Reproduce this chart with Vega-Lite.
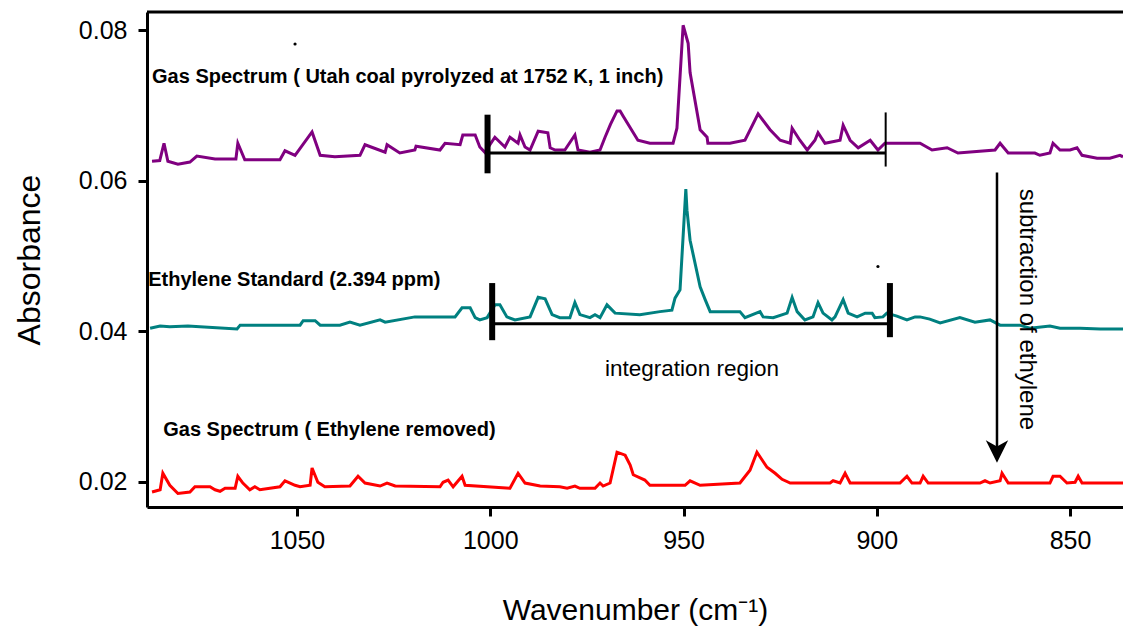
{
  "$schema": "https://vega.github.io/schema/vega-lite/v6.json",
  "width": 976,
  "height": 495,
  "autosize": {"type": "none"},
  "padding": {"left": 147, "top": 12, "right": 0, "bottom": 126},
  "background": "white",
  "config": {
    "view": {"stroke": null},
    "font": "Liberation Sans",
    "axis": {
      "grid": false,
      "domainColor": "black",
      "domainWidth": 3,
      "tickColor": "black",
      "tickWidth": 3,
      "tickSize": 9,
      "labelColor": "black",
      "labelFont": "Liberation Sans",
      "labelFontSize": 25,
      "titleColor": "black",
      "titleFont": "Liberation Sans",
      "titleFontWeight": "normal"
    }
  },
  "datasets": {
    "spectra": [
      {"series": "gas", "wn": 1087.5, "a": 0.0626},
      {"series": "gas", "wn": 1085.5, "a": 0.0627},
      {"series": "gas", "wn": 1084.4, "a": 0.0650},
      {"series": "gas", "wn": 1083.4, "a": 0.0626},
      {"series": "gas", "wn": 1080.8, "a": 0.0622},
      {"series": "gas", "wn": 1077.7, "a": 0.0625},
      {"series": "gas", "wn": 1075.9, "a": 0.0633},
      {"series": "gas", "wn": 1071.2, "a": 0.0629},
      {"series": "gas", "wn": 1065.8, "a": 0.0629},
      {"series": "gas", "wn": 1065.3, "a": 0.0650},
      {"series": "gas", "wn": 1063.5, "a": 0.0628},
      {"series": "gas", "wn": 1054.4, "a": 0.0628},
      {"series": "gas", "wn": 1053.1, "a": 0.0640},
      {"series": "gas", "wn": 1050.5, "a": 0.0634},
      {"series": "gas", "wn": 1046.1, "a": 0.0665},
      {"series": "gas", "wn": 1044.0, "a": 0.0634},
      {"series": "gas", "wn": 1040.2, "a": 0.0632},
      {"series": "gas", "wn": 1033.7, "a": 0.0634},
      {"series": "gas", "wn": 1032.4, "a": 0.0648},
      {"series": "gas", "wn": 1027.2, "a": 0.0638},
      {"series": "gas", "wn": 1026.7, "a": 0.0648},
      {"series": "gas", "wn": 1023.4, "a": 0.0637},
      {"series": "gas", "wn": 1019.5, "a": 0.0641},
      {"series": "gas", "wn": 1019.2, "a": 0.0646},
      {"series": "gas", "wn": 1013.0, "a": 0.0641},
      {"series": "gas", "wn": 1011.7, "a": 0.0650},
      {"series": "gas", "wn": 1007.8, "a": 0.0648},
      {"series": "gas", "wn": 1007.1, "a": 0.0661},
      {"series": "gas", "wn": 1003.9, "a": 0.0661},
      {"series": "gas", "wn": 1002.7, "a": 0.0645},
      {"series": "gas", "wn": 1001.4, "a": 0.0638},
      {"series": "gas", "wn": 998.8, "a": 0.0658},
      {"series": "gas", "wn": 996.2, "a": 0.0645},
      {"series": "gas", "wn": 994.9, "a": 0.0658},
      {"series": "gas", "wn": 992.8, "a": 0.0650},
      {"series": "gas", "wn": 992.3, "a": 0.0661},
      {"series": "gas", "wn": 991.0, "a": 0.0645},
      {"series": "gas", "wn": 989.7, "a": 0.0641},
      {"series": "gas", "wn": 987.6, "a": 0.0666},
      {"series": "gas", "wn": 985.1, "a": 0.0664},
      {"series": "gas", "wn": 984.5, "a": 0.0644},
      {"series": "gas", "wn": 983.2, "a": 0.0641},
      {"series": "gas", "wn": 980.7, "a": 0.0641},
      {"series": "gas", "wn": 978.1, "a": 0.0661},
      {"series": "gas", "wn": 977.3, "a": 0.0641},
      {"series": "gas", "wn": 974.2, "a": 0.0638},
      {"series": "gas", "wn": 971.6, "a": 0.0641},
      {"series": "gas", "wn": 970.3, "a": 0.0658},
      {"series": "gas", "wn": 968.9, "a": 0.0675},
      {"series": "gas", "wn": 967.2, "a": 0.0693},
      {"series": "gas", "wn": 966.4, "a": 0.0693},
      {"series": "gas", "wn": 965.6, "a": 0.0686},
      {"series": "gas", "wn": 961.8, "a": 0.0654},
      {"series": "gas", "wn": 958.7, "a": 0.0650},
      {"series": "gas", "wn": 952.7, "a": 0.0650},
      {"series": "gas", "wn": 951.7, "a": 0.0670},
      {"series": "gas", "wn": 950.1, "a": 0.0807},
      {"series": "gas", "wn": 948.8, "a": 0.0783},
      {"series": "gas", "wn": 948.3, "a": 0.0744},
      {"series": "gas", "wn": 945.7, "a": 0.0668},
      {"series": "gas", "wn": 943.9, "a": 0.0658},
      {"series": "gas", "wn": 943.7, "a": 0.0650},
      {"series": "gas", "wn": 938.0, "a": 0.0650},
      {"series": "gas", "wn": 934.1, "a": 0.0654},
      {"series": "gas", "wn": 930.7, "a": 0.0689},
      {"series": "gas", "wn": 927.6, "a": 0.0668},
      {"series": "gas", "wn": 925.0, "a": 0.0654},
      {"series": "gas", "wn": 922.4, "a": 0.0650},
      {"series": "gas", "wn": 921.9, "a": 0.0670},
      {"series": "gas", "wn": 919.9, "a": 0.0654},
      {"series": "gas", "wn": 918.0, "a": 0.0641},
      {"series": "gas", "wn": 916.0, "a": 0.0654},
      {"series": "gas", "wn": 915.2, "a": 0.0664},
      {"series": "gas", "wn": 913.4, "a": 0.0650},
      {"series": "gas", "wn": 909.5, "a": 0.0654},
      {"series": "gas", "wn": 908.7, "a": 0.0674},
      {"series": "gas", "wn": 906.9, "a": 0.0654},
      {"series": "gas", "wn": 904.8, "a": 0.0644},
      {"series": "gas", "wn": 901.7, "a": 0.0654},
      {"series": "gas", "wn": 899.7, "a": 0.0641},
      {"series": "gas", "wn": 897.9, "a": 0.0650},
      {"series": "gas", "wn": 888.8, "a": 0.0650},
      {"series": "gas", "wn": 885.7, "a": 0.0641},
      {"series": "gas", "wn": 881.8, "a": 0.0644},
      {"series": "gas", "wn": 879.0, "a": 0.0637},
      {"series": "gas", "wn": 869.4, "a": 0.0641},
      {"series": "gas", "wn": 868.1, "a": 0.0650},
      {"series": "gas", "wn": 866.0, "a": 0.0637},
      {"series": "gas", "wn": 859.1, "a": 0.0637},
      {"series": "gas", "wn": 857.8, "a": 0.0634},
      {"series": "gas", "wn": 855.2, "a": 0.0637},
      {"series": "gas", "wn": 854.4, "a": 0.0650},
      {"series": "gas", "wn": 852.6, "a": 0.0641},
      {"series": "gas", "wn": 850.0, "a": 0.0641},
      {"series": "gas", "wn": 848.2, "a": 0.0644},
      {"series": "gas", "wn": 846.9, "a": 0.0634},
      {"series": "gas", "wn": 843.0, "a": 0.0630},
      {"series": "gas", "wn": 839.7, "a": 0.0630},
      {"series": "gas", "wn": 837.1, "a": 0.0634},
      {"series": "gas", "wn": 836.3, "a": 0.0632},

      {"series": "eth", "wn": 1088.0, "a": 0.0404},
      {"series": "eth", "wn": 1085.4, "a": 0.0407},
      {"series": "eth", "wn": 1082.9, "a": 0.0406},
      {"series": "eth", "wn": 1078.2, "a": 0.0407},
      {"series": "eth", "wn": 1075.1, "a": 0.0406},
      {"series": "eth", "wn": 1065.5, "a": 0.0403},
      {"series": "eth", "wn": 1064.7, "a": 0.0408},
      {"series": "eth", "wn": 1049.2, "a": 0.0408},
      {"series": "eth", "wn": 1048.4, "a": 0.0414},
      {"series": "eth", "wn": 1045.3, "a": 0.0414},
      {"series": "eth", "wn": 1044.0, "a": 0.0408},
      {"series": "eth", "wn": 1038.9, "a": 0.0408},
      {"series": "eth", "wn": 1036.3, "a": 0.0412},
      {"series": "eth", "wn": 1033.7, "a": 0.0408},
      {"series": "eth", "wn": 1028.5, "a": 0.0415},
      {"series": "eth", "wn": 1027.2, "a": 0.0412},
      {"series": "eth", "wn": 1019.5, "a": 0.0419},
      {"series": "eth", "wn": 1009.1, "a": 0.0419},
      {"series": "eth", "wn": 1007.3, "a": 0.0431},
      {"series": "eth", "wn": 1005.2, "a": 0.0431},
      {"series": "eth", "wn": 1003.9, "a": 0.0418},
      {"series": "eth", "wn": 1002.7, "a": 0.0415},
      {"series": "eth", "wn": 1000.8, "a": 0.0418},
      {"series": "eth", "wn": 998.8, "a": 0.0435},
      {"series": "eth", "wn": 997.5, "a": 0.0435},
      {"series": "eth", "wn": 995.7, "a": 0.0419},
      {"series": "eth", "wn": 993.6, "a": 0.0415},
      {"series": "eth", "wn": 989.7, "a": 0.0419},
      {"series": "eth", "wn": 987.6, "a": 0.0445},
      {"series": "eth", "wn": 985.8, "a": 0.0443},
      {"series": "eth", "wn": 984.0, "a": 0.0422},
      {"series": "eth", "wn": 982.0, "a": 0.0418},
      {"series": "eth", "wn": 979.4, "a": 0.0418},
      {"series": "eth", "wn": 978.1, "a": 0.0438},
      {"series": "eth", "wn": 976.8, "a": 0.0422},
      {"series": "eth", "wn": 974.2, "a": 0.0418},
      {"series": "eth", "wn": 972.9, "a": 0.0422},
      {"series": "eth", "wn": 971.6, "a": 0.0418},
      {"series": "eth", "wn": 969.8, "a": 0.0435},
      {"series": "eth", "wn": 967.7, "a": 0.0424},
      {"series": "eth", "wn": 961.3, "a": 0.0422},
      {"series": "eth", "wn": 956.1, "a": 0.0426},
      {"series": "eth", "wn": 953.0, "a": 0.0428},
      {"series": "eth", "wn": 952.2, "a": 0.0444},
      {"series": "eth", "wn": 950.9, "a": 0.0455},
      {"series": "eth", "wn": 949.4, "a": 0.0589},
      {"series": "eth", "wn": 949.1, "a": 0.0561},
      {"series": "eth", "wn": 948.3, "a": 0.0521},
      {"series": "eth", "wn": 945.7, "a": 0.0459},
      {"series": "eth", "wn": 944.4, "a": 0.0442},
      {"series": "eth", "wn": 943.1, "a": 0.0426},
      {"series": "eth", "wn": 935.4, "a": 0.0426},
      {"series": "eth", "wn": 934.1, "a": 0.0418},
      {"series": "eth", "wn": 930.2, "a": 0.0426},
      {"series": "eth", "wn": 929.4, "a": 0.0419},
      {"series": "eth", "wn": 926.8, "a": 0.0418},
      {"series": "eth", "wn": 923.2, "a": 0.0424},
      {"series": "eth", "wn": 921.9, "a": 0.0445},
      {"series": "eth", "wn": 920.6, "a": 0.0426},
      {"series": "eth", "wn": 918.6, "a": 0.0415},
      {"series": "eth", "wn": 916.5, "a": 0.0419},
      {"series": "eth", "wn": 915.2, "a": 0.0438},
      {"series": "eth", "wn": 913.9, "a": 0.0424},
      {"series": "eth", "wn": 911.6, "a": 0.0415},
      {"series": "eth", "wn": 910.8, "a": 0.0419},
      {"series": "eth", "wn": 908.7, "a": 0.0442},
      {"series": "eth", "wn": 907.4, "a": 0.0424},
      {"series": "eth", "wn": 905.1, "a": 0.0419},
      {"series": "eth", "wn": 903.0, "a": 0.0424},
      {"series": "eth", "wn": 901.2, "a": 0.0424},
      {"series": "eth", "wn": 900.5, "a": 0.0418},
      {"series": "eth", "wn": 898.4, "a": 0.0419},
      {"series": "eth", "wn": 897.4, "a": 0.0424},
      {"series": "eth", "wn": 894.8, "a": 0.0420},
      {"series": "eth", "wn": 892.2, "a": 0.0415},
      {"series": "eth", "wn": 890.1, "a": 0.0419},
      {"series": "eth", "wn": 888.8, "a": 0.0419},
      {"series": "eth", "wn": 886.3, "a": 0.0416},
      {"series": "eth", "wn": 883.6, "a": 0.0411},
      {"series": "eth", "wn": 878.5, "a": 0.0418},
      {"series": "eth", "wn": 874.6, "a": 0.0412},
      {"series": "eth", "wn": 870.7, "a": 0.0415},
      {"series": "eth", "wn": 868.1, "a": 0.0408},
      {"series": "eth", "wn": 863.0, "a": 0.0408},
      {"series": "eth", "wn": 860.4, "a": 0.0404},
      {"series": "eth", "wn": 855.2, "a": 0.0407},
      {"series": "eth", "wn": 852.6, "a": 0.0404},
      {"series": "eth", "wn": 847.4, "a": 0.0404},
      {"series": "eth", "wn": 842.2, "a": 0.0403},
      {"series": "eth", "wn": 836.3, "a": 0.0403},

      {"series": "rem", "wn": 1087.5, "a": 0.0186},
      {"series": "rem", "wn": 1085.4, "a": 0.0189},
      {"series": "rem", "wn": 1084.7, "a": 0.0211},
      {"series": "rem", "wn": 1082.9, "a": 0.0195},
      {"series": "rem", "wn": 1080.8, "a": 0.0184},
      {"series": "rem", "wn": 1077.7, "a": 0.0186},
      {"series": "rem", "wn": 1076.4, "a": 0.0193},
      {"series": "rem", "wn": 1072.5, "a": 0.0193},
      {"series": "rem", "wn": 1071.2, "a": 0.0189},
      {"series": "rem", "wn": 1069.9, "a": 0.0187},
      {"series": "rem", "wn": 1068.6, "a": 0.0191},
      {"series": "rem", "wn": 1066.0, "a": 0.0191},
      {"series": "rem", "wn": 1065.3, "a": 0.0207},
      {"series": "rem", "wn": 1064.0, "a": 0.0198},
      {"series": "rem", "wn": 1062.2, "a": 0.0189},
      {"series": "rem", "wn": 1060.9, "a": 0.0193},
      {"series": "rem", "wn": 1059.6, "a": 0.0189},
      {"series": "rem", "wn": 1054.4, "a": 0.0193},
      {"series": "rem", "wn": 1053.1, "a": 0.0201},
      {"series": "rem", "wn": 1050.5, "a": 0.0195},
      {"series": "rem", "wn": 1049.2, "a": 0.0193},
      {"series": "rem", "wn": 1046.6, "a": 0.0195},
      {"series": "rem", "wn": 1046.1, "a": 0.0218},
      {"series": "rem", "wn": 1044.6, "a": 0.0199},
      {"series": "rem", "wn": 1042.8, "a": 0.0193},
      {"series": "rem", "wn": 1036.3, "a": 0.0194},
      {"series": "rem", "wn": 1034.2, "a": 0.0207},
      {"series": "rem", "wn": 1032.4, "a": 0.0198},
      {"series": "rem", "wn": 1028.5, "a": 0.0194},
      {"series": "rem", "wn": 1026.7, "a": 0.0198},
      {"series": "rem", "wn": 1024.6, "a": 0.0194},
      {"series": "rem", "wn": 1013.0, "a": 0.0193},
      {"series": "rem", "wn": 1012.2, "a": 0.0199},
      {"series": "rem", "wn": 1010.9, "a": 0.0202},
      {"series": "rem", "wn": 1009.6, "a": 0.0193},
      {"series": "rem", "wn": 1007.3, "a": 0.0207},
      {"series": "rem", "wn": 1006.5, "a": 0.0195},
      {"series": "rem", "wn": 994.9, "a": 0.0191},
      {"series": "rem", "wn": 992.8, "a": 0.0211},
      {"series": "rem", "wn": 991.0, "a": 0.0198},
      {"series": "rem", "wn": 987.1, "a": 0.0194},
      {"series": "rem", "wn": 982.0, "a": 0.0193},
      {"series": "rem", "wn": 980.1, "a": 0.0191},
      {"series": "rem", "wn": 978.1, "a": 0.0194},
      {"series": "rem", "wn": 976.8, "a": 0.0191},
      {"series": "rem", "wn": 972.9, "a": 0.0191},
      {"series": "rem", "wn": 971.6, "a": 0.0198},
      {"series": "rem", "wn": 970.8, "a": 0.0194},
      {"series": "rem", "wn": 969.0, "a": 0.0198},
      {"series": "rem", "wn": 967.2, "a": 0.0239},
      {"series": "rem", "wn": 965.1, "a": 0.0235},
      {"series": "rem", "wn": 963.8, "a": 0.0222},
      {"series": "rem", "wn": 963.0, "a": 0.0209},
      {"series": "rem", "wn": 960.0, "a": 0.0202},
      {"series": "rem", "wn": 958.7, "a": 0.0195},
      {"series": "rem", "wn": 949.6, "a": 0.0195},
      {"series": "rem", "wn": 948.3, "a": 0.0201},
      {"series": "rem", "wn": 945.7, "a": 0.0195},
      {"series": "rem", "wn": 935.4, "a": 0.0198},
      {"series": "rem", "wn": 932.8, "a": 0.0215},
      {"series": "rem", "wn": 931.0, "a": 0.0239},
      {"series": "rem", "wn": 929.7, "a": 0.0229},
      {"series": "rem", "wn": 928.4, "a": 0.0219},
      {"series": "rem", "wn": 926.3, "a": 0.0211},
      {"series": "rem", "wn": 924.5, "a": 0.0203},
      {"series": "rem", "wn": 922.4, "a": 0.0198},
      {"series": "rem", "wn": 912.1, "a": 0.0198},
      {"series": "rem", "wn": 911.3, "a": 0.0201},
      {"series": "rem", "wn": 909.5, "a": 0.0198},
      {"series": "rem", "wn": 908.2, "a": 0.0211},
      {"series": "rem", "wn": 906.9, "a": 0.0198},
      {"series": "rem", "wn": 894.0, "a": 0.0198},
      {"series": "rem", "wn": 892.2, "a": 0.0207},
      {"series": "rem", "wn": 890.9, "a": 0.0198},
      {"series": "rem", "wn": 888.8, "a": 0.0198},
      {"series": "rem", "wn": 888.0, "a": 0.0207},
      {"series": "rem", "wn": 886.7, "a": 0.0198},
      {"series": "rem", "wn": 873.3, "a": 0.0198},
      {"series": "rem", "wn": 872.0, "a": 0.0201},
      {"series": "rem", "wn": 870.7, "a": 0.0198},
      {"series": "rem", "wn": 868.1, "a": 0.0201},
      {"series": "rem", "wn": 867.6, "a": 0.0211},
      {"series": "rem", "wn": 866.0, "a": 0.0198},
      {"series": "rem", "wn": 855.2, "a": 0.0198},
      {"series": "rem", "wn": 854.4, "a": 0.0207},
      {"series": "rem", "wn": 852.6, "a": 0.0207},
      {"series": "rem", "wn": 850.8, "a": 0.0198},
      {"series": "rem", "wn": 848.7, "a": 0.0199},
      {"series": "rem", "wn": 847.9, "a": 0.0207},
      {"series": "rem", "wn": 846.9, "a": 0.0198},
      {"series": "rem", "wn": 836.3, "a": 0.0198}
    ]
  },
  "layer": [
    {
      "data": {"name": "spectra"},
      "mark": {"type": "line", "strokeWidth": 3, "clip": true},
      "encoding": {
        "x": {
          "field": "wn",
          "type": "quantitative",
          "scale": {"domain": [836.3, 1088.8], "reverse": true, "nice": false, "zero": false},
          "axis": {
            "values": [1050, 1000, 950, 900, 850],
            "format": "d",
            "title": "Wavenumber  (cm⁻¹)",
            "titleFontSize": 30,
            "titlePadding": 42,
            "labelPadding": 12
          }
        },
        "y": {
          "field": "a",
          "type": "quantitative",
          "scale": {"domain": [0.01661, 0.08246], "nice": false, "zero": false},
          "axis": {
            "values": [0.02, 0.04, 0.06, 0.08],
            "format": ".2f",
            "title": "Absorbance",
            "titleFontSize": 32,
            "titlePadding": 32,
            "labelPadding": 11
          }
        },
        "color": {
          "field": "series",
          "type": "nominal",
          "scale": {"domain": ["gas", "eth", "rem"], "range": ["#800080", "#008080", "#ff0000"]},
          "legend": null
        },
        "detail": {"field": "series"}
      }
    },
    {
      "data": {"values": [{"a": 0.08246}]},
      "mark": {"type": "rule", "strokeWidth": 3, "color": "black"},
      "encoding": {"y": {"field": "a", "type": "quantitative"}}
    },
    {
      "data": {"values": [
        {"x": 1000.7, "x2": 897.7, "y": 0.0637},
        {"x": 999.5, "x2": 896.6, "y": 0.0410}
      ]},
      "mark": {"type": "rule", "strokeWidth": 3, "color": "black"},
      "encoding": {
        "x": {"field": "x", "type": "quantitative"},
        "x2": {"field": "x2"},
        "y": {"field": "y", "type": "quantitative"}
      }
    },
    {
      "data": {"values": [
        {"x": 1000.7, "y": 0.0610, "y2": 0.0688},
        {"x": 999.5, "y": 0.0388, "y2": 0.0464},
        {"x": 896.6, "y": 0.0392, "y2": 0.0464}
      ]},
      "mark": {"type": "rule", "strokeWidth": 6, "color": "black"},
      "encoding": {
        "x": {"field": "x", "type": "quantitative"},
        "y": {"field": "y", "type": "quantitative"},
        "y2": {"field": "y2"}
      }
    },
    {
      "data": {"values": [
        {"x": 897.7, "y": 0.0619, "y2": 0.0691}
      ]},
      "mark": {"type": "rule", "strokeWidth": 2, "color": "black"},
      "encoding": {
        "x": {"field": "x", "type": "quantitative"},
        "y": {"field": "y", "type": "quantitative"},
        "y2": {"field": "y2"}
      }
    },
    {
      "data": {"values": [
        {"x": 868.9, "y": 0.0611, "y2": 0.0232}
      ]},
      "mark": {"type": "rule", "strokeWidth": 2.5, "color": "black"},
      "encoding": {
        "x": {"field": "x", "type": "quantitative"},
        "y": {"field": "y", "type": "quantitative"},
        "y2": {"field": "y2"}
      }
    },
    {
      "data": {"values": [{"x": 868.9, "y": 0.0240}]},
      "mark": {"type": "point", "filled": true, "color": "black", "opacity": 1, "size": 500, "shape": "M0,1 L-1,-1 L0,-0.45 L1,-1 Z"},
      "encoding": {
        "x": {"field": "x", "type": "quantitative"},
        "y": {"field": "y", "type": "quantitative"}
      }
    },
    {
      "data": {"values": [{"x": 1050.5, "y": 0.0782}, {"x": 899.7, "y": 0.0486}]},
      "mark": {"type": "point", "filled": true, "color": "black", "opacity": 1, "size": 10},
      "encoding": {
        "x": {"field": "x", "type": "quantitative"},
        "y": {"field": "y", "type": "quantitative"}
      }
    },
    {
      "data": {"values": [
        {"x": 1087.5, "y": 0.0730, "label": "Gas Spectrum ( Utah coal pyrolyzed at 1752 K, 1 inch)"},
        {"x": 1088.5, "y": 0.0460, "label": "Ethylene Standard (2.394 ppm)"},
        {"x": 1084.6, "y": 0.0260, "label": "Gas Spectrum ( Ethylene removed)"}
      ]},
      "mark": {"type": "text", "align": "left", "baseline": "alphabetic", "fontSize": 20, "fontWeight": "bold", "font": "Liberation Sans", "color": "black"},
      "encoding": {
        "x": {"field": "x", "type": "quantitative"},
        "y": {"field": "y", "type": "quantitative"},
        "text": {"field": "label"}
      }
    },
    {
      "data": {"values": [{"x": 947.8, "y": 0.03405, "label": "integration region"}]},
      "mark": {"type": "text", "align": "center", "baseline": "alphabetic", "fontSize": 22.5, "font": "Liberation Sans", "color": "black"},
      "encoding": {
        "x": {"field": "x", "type": "quantitative"},
        "y": {"field": "y", "type": "quantitative"},
        "text": {"field": "label"}
      }
    },
    {
      "data": {"values": [{"x": 861.2, "y": 0.0429, "label": "subtraction of ethylene"}]},
      "mark": {"type": "text", "align": "center", "baseline": "middle", "angle": 90, "fontSize": 24, "font": "Liberation Sans", "color": "black"},
      "encoding": {
        "x": {"field": "x", "type": "quantitative"},
        "y": {"field": "y", "type": "quantitative"},
        "text": {"field": "label"}
      }
    }
  ]
}
